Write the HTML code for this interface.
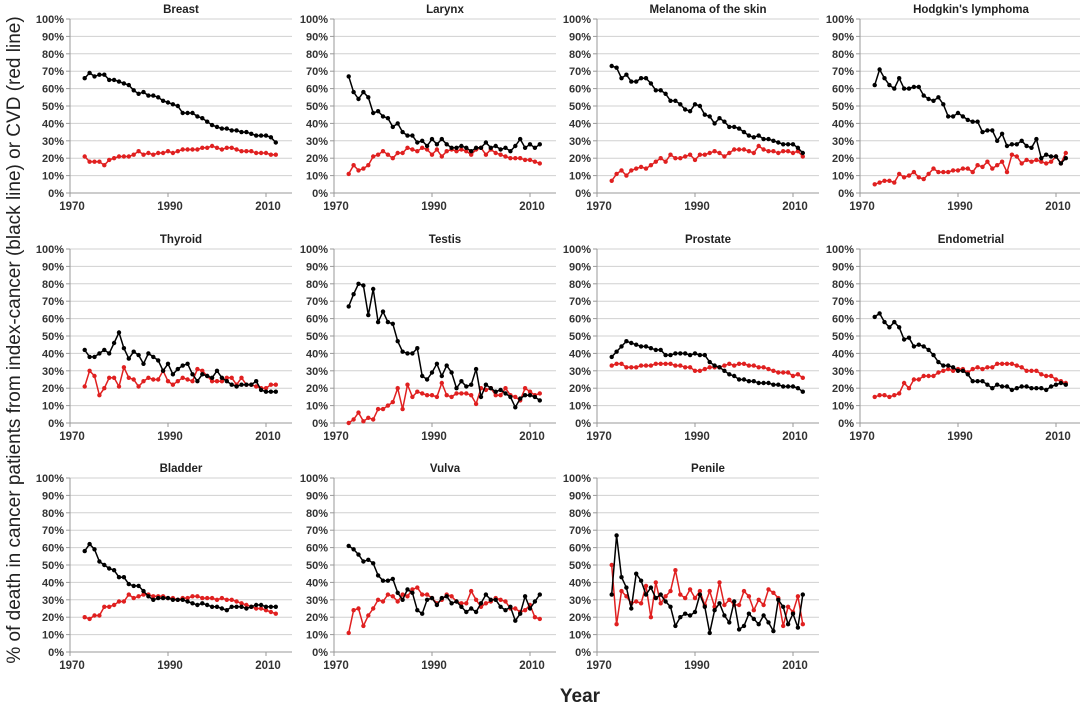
<!DOCTYPE html>
<html><head><meta charset="utf-8"><style>
body{margin:0;background:#fff;width:1080px;height:706px;overflow:hidden}
svg{display:block}
text{font-family:"Liberation Sans",Arial,sans-serif}
</style></head><body>
<svg id="s" width="1080" height="706" xmlns="http://www.w3.org/2000/svg">
<text x="0" y="0" transform="translate(20,340) rotate(-90)" text-anchor="middle" font-size="19" fill="#222">% of death in cancer patients from index-cancer (black line) or CVD (red line)</text>
<text x="580" y="702" text-anchor="middle" font-size="19" font-weight="bold" fill="#222">Year</text>
</svg>
<script>
const P=[
["Breast",0,0,[66,69,67,68,68,65,65,64,63,62,59,57,58,56,56,55,53,52,51,50,46,46,46,44,43,41,39,38,37,37,36,36,35,35,34,33,33,33,32,29],[21,18,18,18,16,19,20,21,21,21,22,24,22,23,22,23,23,24,23,24,25,25,25,25,26,26,27,26,25,26,26,25,24,24,24,23,23,23,22,22]],
["Larynx",1,0,[67,58,54,58,55,46,47,44,43,38,40,35,33,33,29,30,27,31,28,31,28,26,26,27,26,24,26,26,29,26,27,25,26,24,27,31,26,28,26,28],[11,16,13,14,16,21,22,24,22,20,23,23,26,25,24,26,25,22,25,21,24,25,24,25,24,22,25,26,22,25,23,22,21,20,20,20,19,19,18,17]],
["Melanoma of the skin",2,0,[73,72,66,68,64,64,66,66,63,59,59,57,53,53,51,48,47,51,50,45,44,40,43,41,38,38,37,35,33,32,33,31,31,30,29,28,28,28,26,23],[7,11,13,10,13,14,15,14,16,18,20,18,22,20,20,21,22,19,22,22,23,24,23,21,23,25,25,25,24,23,27,25,24,24,23,24,24,23,24,21]],
["Hodgkin's lymphoma",3,0,[62,71,66,62,60,66,60,60,61,61,56,54,53,55,51,44,44,46,44,42,41,41,35,36,36,30,34,27,28,28,30,27,26,31,20,22,21,21,17,20],[5,6,7,7,6,11,9,10,12,9,8,11,14,12,12,12,13,13,14,14,12,16,15,18,14,16,18,12,22,21,17,19,18,19,18,17,18,21,17,23]],
["Thyroid",0,1,[42,38,38,40,42,40,46,52,43,37,41,39,34,40,38,36,30,34,28,31,33,34,28,24,28,27,26,30,26,24,22,21,22,22,22,24,19,18,18,18],[21,30,27,16,20,26,26,21,32,26,25,21,24,26,25,25,30,24,22,24,26,25,24,31,30,27,24,24,24,26,26,22,26,22,22,21,20,20,22,22]],
["Testis",1,1,[67,74,80,79,62,77,58,64,58,57,47,41,40,40,43,27,25,29,34,27,33,29,20,24,21,22,31,15,22,20,18,19,17,15,9,14,16,16,15,13],[0,2,6,1,3,2,8,8,10,12,20,8,22,15,18,17,16,16,15,23,16,15,17,17,17,16,11,20,19,20,16,16,20,16,15,13,20,18,16,17]],
["Prostate",2,1,[38,41,44,47,46,45,44,44,43,42,42,39,39,40,40,40,39,40,39,39,35,33,32,30,28,27,25,25,24,24,23,23,23,22,22,21,21,21,20,18],[33,34,34,32,32,32,33,33,33,34,34,34,34,33,33,32,32,30,30,31,32,32,32,33,34,33,34,34,33,33,32,32,31,30,29,29,29,27,28,26]],
["Endometrial",3,1,[61,63,58,55,58,55,48,49,44,45,44,42,39,35,33,33,32,30,30,28,24,24,24,22,20,22,21,21,19,20,21,21,20,20,20,19,21,22,23,22],[15,16,16,15,16,17,23,20,25,25,27,27,27,29,30,31,30,31,31,29,31,32,31,32,32,34,34,34,34,33,32,30,30,30,28,27,27,25,24,23]],
["Bladder",0,2,[58,62,59,52,50,48,47,43,43,39,38,38,35,32,30,31,31,31,30,30,30,29,28,27,28,27,26,26,25,24,26,26,26,25,26,27,27,26,26,26],[20,19,21,21,26,26,27,29,29,33,31,32,33,33,32,32,32,31,31,30,31,31,32,32,31,31,31,30,31,30,30,29,28,27,26,25,25,24,23,22]],
["Vulva",1,2,[61,59,56,52,53,51,44,41,41,42,34,30,36,34,24,22,30,31,27,31,32,28,29,26,23,25,23,28,33,30,30,26,24,26,18,22,32,25,29,33],[11,24,25,15,21,25,30,29,33,32,29,33,32,36,37,33,33,31,28,30,33,32,29,28,28,35,30,26,28,29,31,30,29,25,25,23,24,27,20,19]],
["Penile",2,2,[33,67,43,37,25,45,41,33,37,31,33,29,26,15,20,22,21,23,33,26,11,24,28,21,17,29,13,15,22,19,16,21,17,12,30,26,16,22,14,33],[50,16,35,32,28,29,28,38,20,40,28,32,35,47,33,31,36,31,35,27,35,26,40,27,30,27,27,35,32,24,30,27,36,34,31,15,26,23,32,16]]
];
const CX=[70,334,597,860],RT=[19,249,478],H=174,W=222,K=4.9;
let o='';
for(const [t,c,r,b,rd] of P){
 const x0=CX[c],y0=RT[r],yb=y0+H;
 o+=`<text x="${x0+W/2}" y="${y0-6}" text-anchor="middle" font-size="11.5" font-weight="bold" fill="#222">${t.replace("'","&#39;")}</text>`;
 for(let i=0;i<=10;i++){const y=yb-i*H/10;
  if(i>0)o+=`<line x1="${x0}" x2="${x0+W}" y1="${y}" y2="${y}" stroke="#d0d0d0" stroke-width="1"/>`;
  o+=`<line x1="${x0-4}" x2="${x0}" y1="${y}" y2="${y}" stroke="#999"/>`;
  o+=`<text x="${x0-6}" y="${y+4}" text-anchor="end" font-size="11" font-weight="bold" fill="#333">${i*10}%</text>`;}
 o+=`<line x1="${x0}" x2="${x0}" y1="${y0}" y2="${yb}" stroke="#999"/><line x1="${x0}" x2="${x0+W}" y1="${yb}" y2="${yb}" stroke="#999"/>`;
 for(const yr of [1970,1990,2010]){const x=x0+(yr-1970)*K;
  o+=`<line x1="${x}" x2="${x}" y1="${yb}" y2="${yb+4}" stroke="#999"/><text x="${x+2}" y="${yb+17}" text-anchor="middle" font-size="11.5" font-weight="bold" fill="#333">${yr}</text>`;}
 for(const [d,col] of [[rd,'#e02020'],[b,'#000']]){
  const pts=d.map((v,i)=>[(x0+(1973+i-1970)*K).toFixed(1),(yb-v*H/100).toFixed(1)]);
  o+=`<polyline fill="none" stroke="${col}" stroke-width="1.5" points="${pts.map(p=>p.join(',')).join(' ')}"/>`;
  for(const p of pts)o+=`<circle cx="${p[0]}" cy="${p[1]}" r="2.2" fill="${col}"/>`;
 }
}
document.getElementById('s').insertAdjacentHTML('beforeend',o);
</script>
</body></html>
